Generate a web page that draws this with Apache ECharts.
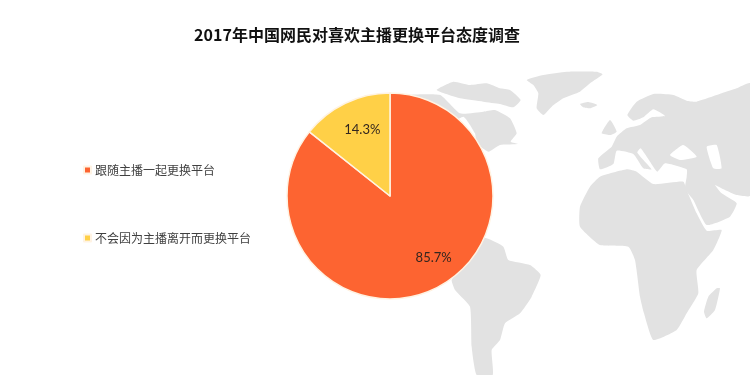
<!DOCTYPE html>
<html>
<head>
<meta charset="utf-8">
<style>html,body{margin:0;padding:0;background:#fff}#main{width:750px;height:375px}</style>
<script src="https://cdn.jsdelivr.net/npm/echarts@6/dist/echarts.min.js"></script>
</head>
<body>
<div id="main"></div>
<script>
var titleText = '2017年中国网民对喜欢主播更换平台态度调查';
var categories = ['跟随主播一起更换平台', '不会因为主播离开而更换平台'];
var values = [85.7, 14.3];
var colors = ['#fd6431', '#ffd047'];
var labelNudge = [[20, 13], [-4, -17]];

// 背景世界地图，只是装饰，坐标是放大3倍后读的
var landShapes = [
  [[320,150],[370,135],[440,125],[530,125],[548,133],[510,160],[480,185],[430,205],[395,230],[370,255],[350,235],[355,190],[340,165]],
  [[480,222],[505,216],[532,225],[510,235],[490,232]],
  [[50,180],[100,155],[150,165],[200,160],[240,175],[270,180],[302,210],[280,232],[240,222],[190,215],[120,205]],
  [[-60,200],[60,195],[120,250],[190,245],[225,240],[270,265],[290,310],[272,335],[295,342],[240,345],[205,365],[170,340],[165,310],[130,260],[60,300]],
  [[130,620],[200,625],[250,650],[265,690],[330,705],[362,735],[335,800],[300,850],[255,880],[240,930],[215,960],[218,1035],[170,1035],[155,950],[150,830],[105,780],[95,750],[130,690]],
  [[540,440],[620,418],[650,425],[700,462],[790,455],[800,480],[830,550],[860,602],[905,600],[880,660],[830,720],[835,790],[800,850],[770,900],[700,930],[672,850],[660,800],[645,690],[625,650],[540,645],[480,590],[480,530],[510,470]],
  [[622,255],[650,215],[700,192],[760,195],[800,212],[830,215],[905,190],[950,175],[990,160],[990,497],[950,495],[915,480],[885,465],[905,490],[950,520],[930,560],[860,585],[820,510],[795,478],[800,440],[800,418],[735,400],[712,425],[690,395],[662,355],[652,368],[695,418],[670,415],[640,372],[590,362],[580,402],[540,418],[535,385],[575,350],[590,320],[620,295],[660,285],[695,262],[735,258],[700,238],[670,262],[640,272]],
  [[545,310],[570,270],[590,305],[570,315]],
  [[890,775],[900,775],[885,840],[860,865],[852,845],[865,800]]
];
var seaShapes = [
  [[750,375],[790,345],[830,380],[780,390]],
  [[860,350],[890,345],[905,415],[880,415]]
];

function toPolygons(list, fill) {
  return list.map(function (pts) {
    return {type: 'polygon', shape: {points: pts, smooth: 0.15}, style: {fill: fill}, silent: true};
  });
}

var myChart = echarts.init(document.getElementById('main'));
myChart.setOption({
  backgroundColor: '#fff',
  animation: false,
  title: {
    text: titleText,
    left: 352,
    top: 22,
    textAlign: 'center',
    textStyle: {fontFamily: 'Noto Sans CJK SC', fontSize: 16, fontWeight: 'bold', color: '#111'}
  },
  legend: {
    orient: 'vertical',
    left: 83,
    top: 164,
    padding: 0,
    itemWidth: 7,
    itemHeight: 7,
    itemGap: 56,
    icon: 'rect',
    data: categories,
    textStyle: {fontFamily: 'Noto Sans CJK SC', fontSize: 12, color: '#404040', padding: [0, 0, 0, -1]}
  },
  graphic: [{
    type: 'group',
    x: 420,
    y: 30,
    scaleX: 1 / 3,
    scaleY: 1 / 3,
    z: -1,
    silent: true,
    children: toPolygons(landShapes, '#e2e2e2').concat(toPolygons(seaShapes, '#ffffff'))
  }],
  series: [{
    type: 'pie',
    center: [390, 196],
    radius: [0, 103],
    startAngle: 90,
    clockwise: true,
    z: 5,
    data: categories.map(function (name, i) {
      return {name: name, value: values[i], itemStyle: {color: colors[i]}};
    }),
    itemStyle: {borderColor: '#fff3e3', borderWidth: 1.5},
    label: {
      position: 'inside',
      formatter: function (p) { return p.value.toFixed(1) + '%'; },
      fontFamily: 'Lato',
      fontSize: 13,
      color: '#33261f'
    },
    labelLayout: function (p) {
      return {dx: labelNudge[p.dataIndex][0], dy: labelNudge[p.dataIndex][1]};
    },
    emphasis: {disabled: true}
  }]
});
</script>
</body>
</html>
